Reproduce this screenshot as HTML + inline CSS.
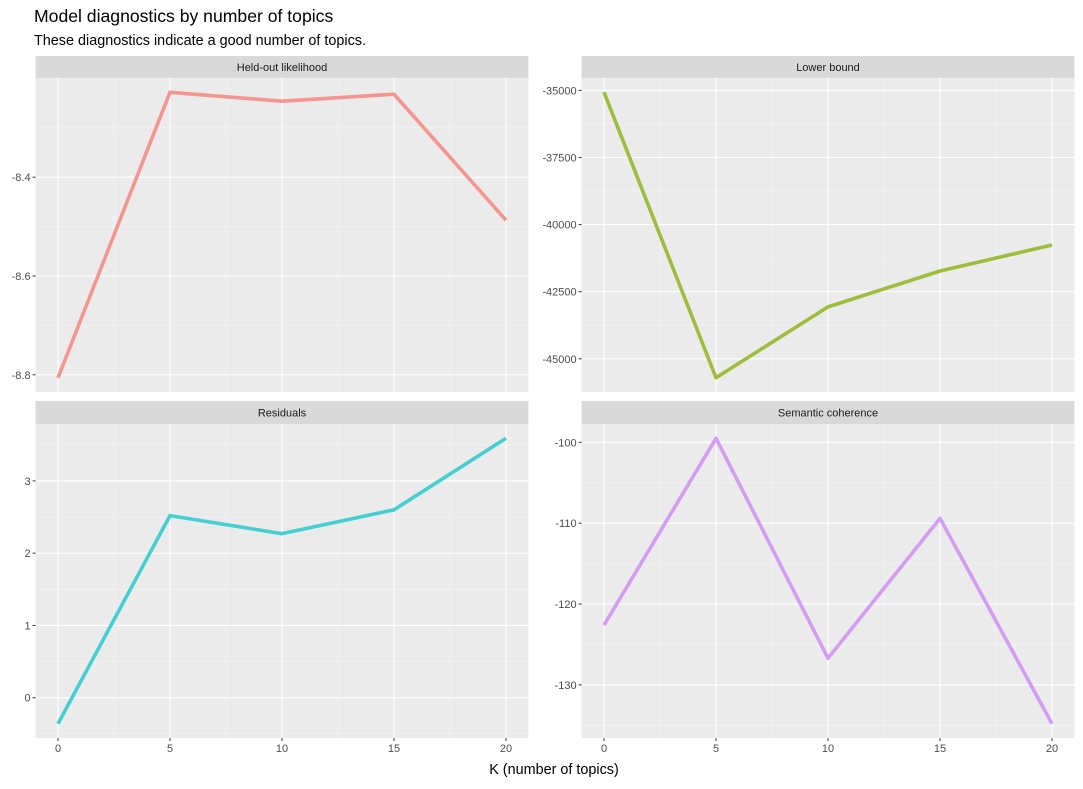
<!DOCTYPE html>
<html><head><meta charset="utf-8">
<style>
body{margin:0;background:#fff;font-family:"Liberation Sans",Arial,sans-serif;}
svg text{font-family:"Liberation Sans",Arial,sans-serif;}
</style></head>
<body>
<svg id="chart" width="1083" height="784" xmlns="http://www.w3.org/2000/svg">
<text x="34" y="22" font-size="17.6" fill="#000">Model diagnostics by number of topics</text>
<text x="34" y="45" font-size="14.4" fill="#000">These diagnostics indicate a good number of topics.</text>
<text x="554" y="774" font-size="14.4" text-anchor="middle" fill="#000">K (number of topics)</text>
</svg>
<script>
const kValues = [0, 5, 10, 15, 20];
const xTicks = [0, 5, 10, 15, 20];
const heldOut = [-8.806, -8.228, -8.246, -8.232, -8.487];
const lowerBound = [-35070, -45706, -43067, -41730, -40760];
const residuals = [-0.36, 2.52, 2.27, 2.60, 3.59];
const semCoh = [-122.6, -99.5, -126.7, -109.4, -134.8];
const heldOutTicks = [-8.8, -8.6, -8.4];
const lowerBoundTicks = [-45000, -42500, -40000, -37500, -35000];
const residualTicks = [0, 1, 2, 3];
const semCohTicks = [-130, -120, -110, -100];
const panelTitles = ["Held-out likelihood", "Lower bound", "Residuals", "Semantic coherence"];

const NS = "http://www.w3.org/2000/svg";
const svg = document.getElementById('chart');
function mk(tag, attrs, parent){const e=document.createElementNS(NS,tag);for(const k in attrs)e.setAttribute(k,attrs[k]);(parent||svg).appendChild(e);return e;}

const panels = [
 {vals:heldOut,ticks:heldOutTicks,x0:35.6,x1:528.4,y0:78,y1:392,sy:56,color:"#f3968f",name:"held-out-likelihood",showX:false,fmt:v=>v.toFixed(1)},
 {vals:lowerBound,ticks:lowerBoundTicks,x0:581.6,x1:1074.4,y0:78,y1:392,sy:56,color:"#9ebd3d",name:"lower-bound",showX:false,fmt:v=>String(v)},
 {vals:residuals,ticks:residualTicks,x0:35.6,x1:528.4,y0:424,y1:738,sy:401,color:"#45cfd0",name:"residuals",showX:true,fmt:v=>String(v)},
 {vals:semCoh,ticks:semCohTicks,x0:581.6,x1:1074.4,y0:424,y1:738,sy:401,color:"#d39ef2",name:"semantic-coherence",showX:true,fmt:v=>String(v)}
];

panels.forEach((p,i)=>{
  const g = mk('g',{});
  
  
  const kmin=Math.min(...kValues),kmax=Math.max(...kValues),kr=kmax-kmin;
  const xs=v=>p.x0+(v-(kmin-0.05*kr))/(kr*1.1)*(p.x1-p.x0);
  const vmin=Math.min(...p.vals),vmax=Math.max(...p.vals),vr=vmax-vmin;
  const lo=vmin-0.05*vr, hi=vmax+0.05*vr;
  const ys=v=>p.y1-(v-lo)/(hi-lo)*(p.y1-p.y0);
  const bg=mk('rect',{x:p.x0,y:p.y0,width:p.x1-p.x0,height:p.y1-p.y0,fill:"#ebebeb"},g);
  
  
  const strip=mk('rect',{x:p.x0,y:p.sy,width:p.x1-p.x0,height:p.y0-p.sy,fill:"#d9d9d9"},g);
  
  
  const st=mk('text',{x:(p.x0+p.x1)/2,y:(p.sy+p.y0)/2+4,'font-size':11,'text-anchor':'middle',fill:"#1a1a1a"},g);
  st.textContent=panelTitles[i];
  
  
  const step=p.ticks[1]-p.ticks[0];
  for(let t=p.ticks[0]-step/2;t<=p.ticks[p.ticks.length-1]+step;t+=step){
    const y=ys(t); if(y>=p.y0&&y<=p.y1) mk('line',{x1:p.x0,x2:p.x1,y1:y,y2:y,stroke:"#f5f5f5",'stroke-width':0.6},g);
  }
  for(let t=xTicks[0]-2.5;t<=xTicks[xTicks.length-1]+2.5;t+=5){
    const x=xs(t); if(x>=p.x0&&x<=p.x1) mk('line',{x1:x,x2:x,y1:p.y0,y2:p.y1,stroke:"#f5f5f5",'stroke-width':0.6},g);
  }
  p.ticks.forEach(t=>{
    const y=ys(t);
    mk('line',{x1:p.x0,x2:p.x1,y1:y,y2:y,stroke:"#fff",'stroke-width':1.1},g);
    mk('line',{x1:p.x0-3,x2:p.x0,y1:y,y2:y,stroke:"#333",'stroke-width':1},g);
    const tl=mk('text',{x:p.x0-5,y:y+4,'font-size':11,'text-anchor':'end',fill:"#4d4d4d"},g);
    tl.textContent=p.fmt(t);
    
    
  });
  xTicks.forEach(t=>{
    const x=xs(t);
    mk('line',{x1:x,x2:x,y1:p.y0,y2:p.y1,stroke:"#fff",'stroke-width':1.1},g);
    if(p.showX){
      mk('line',{x1:x,x2:x,y1:p.y1,y2:p.y1+3,stroke:"#333",'stroke-width':1},g);
      const tl=mk('text',{x:x,y:p.y1+14,'font-size':11,'text-anchor':'middle',fill:"#4d4d4d"},g);
      tl.textContent=String(t);
      
      
    }
  });
  const pts=kValues.map((k,j)=>xs(k)+','+ys(p.vals[j])).join(' ');
  const line=mk('polyline',{points:pts,fill:'none',stroke:p.color,'stroke-width':3.6,'stroke-linejoin':'round','stroke-linecap':'butt'},g);
  
  
});
</script>
</body></html>
